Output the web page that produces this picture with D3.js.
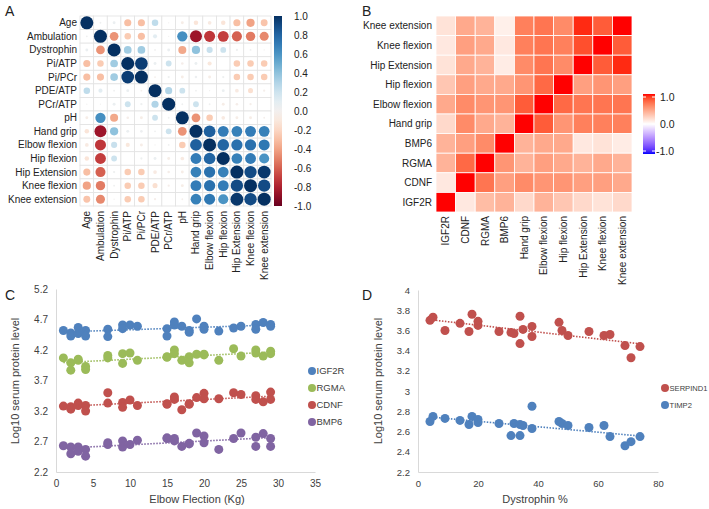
<!DOCTYPE html>
<html><head><meta charset="utf-8">
<script src="https://cdn.jsdelivr.net/npm/d3@7"></script>
<style>
body{margin:0;background:#fff;}
text{font-family:"Liberation Sans",Arial,sans-serif;}
</style></head>
<body><svg id="chart" width="709" height="509"></svg>
<script>
// ---------- Panel A: correlation matrix ----------
const corrVars = ["Age","Ambulation","Dystrophin","Pi/ATP","Pi/PCr","PDE/ATP","PCr/ATP","pH","Hand grip","Elbow flexion","Hip flexion","Hip Extension","Knee flexion","Knee extension"];
const corrMatrix = [
 [1,0.02,0.05,-0.3,-0.3,0.25,0.01,-0.05,-0.12,-0.08,-0.12,-0.3,-0.4,-0.28],
 [0.02,1,-0.45,-0.25,-0.3,0.1,0.01,0.62,-0.85,-0.72,-0.7,-0.6,-0.52,-0.48],
 [0.05,-0.45,1,0.35,0.35,0.02,0.05,-0.38,0.4,0.22,0.2,0.03,0.02,0.01],
 [-0.3,-0.25,0.35,1,0.95,0.05,0.2,-0.04,0.05,-0.1,0.0,-0.25,-0.25,-0.25],
 [-0.3,-0.3,0.35,0.95,1,-0.02,0.03,-0.05,0.04,-0.05,0.03,-0.25,-0.25,-0.25],
 [0.25,0.1,0.02,0.05,-0.02,1,0.3,0.2,0.02,0.01,0.05,-0.08,-0.15,-0.03],
 [0.01,0.01,0.05,0.2,0.03,0.3,1,0.02,0.2,0.02,-0.05,-0.04,-0.03,0.0],
 [-0.05,0.62,-0.38,-0.04,-0.05,0.2,0.02,1,-0.45,-0.25,-0.08,-0.05,-0.05,-0.02],
 [-0.12,-0.85,0.4,0.05,0.04,0.02,0.2,-0.45,1,0.82,0.7,0.68,0.7,0.68],
 [-0.08,-0.72,0.22,-0.1,-0.05,0.01,0.02,-0.25,0.82,1,0.8,0.75,0.75,0.72],
 [-0.12,-0.7,0.2,0.0,0.03,0.05,-0.05,-0.08,0.7,0.8,1,0.68,0.7,0.6],
 [-0.3,-0.6,0.03,-0.25,-0.25,-0.08,-0.04,-0.05,0.68,0.75,0.68,1,0.9,0.97],
 [-0.4,-0.52,0.02,-0.25,-0.25,-0.15,-0.03,-0.05,0.7,0.75,0.7,0.9,1,0.9],
 [-0.28,-0.48,0.01,-0.25,-0.25,-0.03,0.0,-0.02,0.68,0.72,0.6,0.97,0.9,1]
];
const corrLegendTicks = [1.0,0.8,0.6,0.4,0.2,0.0,-0.2,-0.4,-0.6,-0.8,-1.0];

// ---------- Panel B: heatmap ----------
const heatRows = ["Knee extension","Knee flexion","Hip Extension","Hip flexion","Elbow flexion","Hand grip","BMP6","RGMA","CDNF","IGF2R"];
const heatCols = ["IGF2R","CDNF","RGMA","BMP6","Hand grip","Elbow flexion","Hip flexion","Hip Extension","Knee flexion","Knee extension"];
const heatValues = [
 [0.15,0.45,0.40,0.08,0.65,0.70,0.60,0.95,0.80,1.00],
 [0.12,0.50,0.45,0.12,0.65,0.70,0.65,0.85,1.00,0.80],
 [0.15,0.45,0.40,0.10,0.60,0.70,0.60,1.00,0.80,0.95],
 [0.30,0.50,0.45,0.45,0.55,0.75,1.00,0.50,0.55,0.50],
 [0.45,0.60,0.55,0.55,0.80,1.00,0.75,0.70,0.70,0.70],
 [0.20,0.60,0.45,0.40,1.00,0.80,0.55,0.65,0.65,0.65],
 [0.40,0.50,0.60,1.00,0.40,0.45,0.45,0.12,0.15,0.10],
 [0.40,0.75,1.00,0.55,0.40,0.50,0.45,0.40,0.45,0.40],
 [0.12,1.00,0.70,0.50,0.60,0.55,0.55,0.50,0.50,0.45],
 [1.00,0.12,0.35,0.40,0.20,0.40,0.30,0.20,0.15,0.20]
];
const heatLegendTicks = [1.0,0.0,-1.0];

// ---------- Panel C ----------
const cElbow = [1,2,2,3,3,4,4,7,7,9,9,10,11,15,15,16,16,17,18,18,19,20,20,22,24,25,27,27,28,29,29];
const cIGF2R = [4.52,4.48,4.43,4.57,4.47,4.52,4.43,4.54,4.42,4.61,4.55,4.61,4.59,4.55,4.43,4.66,4.61,4.59,4.52,4.49,4.71,4.59,4.54,4.51,4.56,4.59,4.62,4.54,4.65,4.62,4.59];
const cRGMA  = [4.07,3.99,3.87,4.05,4.03,3.93,3.88,4.11,4.07,4.14,3.98,4.15,4.03,4.09,4.08,4.20,4.14,4.03,4.09,3.99,4.13,4.13,4.12,4.03,4.22,4.10,4.20,4.15,4.10,4.18,4.14];
const cCDNF  = [3.28,3.27,3.23,3.33,3.29,3.29,3.20,3.50,3.33,3.34,3.26,3.38,3.29,3.32,3.31,3.43,3.39,3.22,3.32,3.31,3.42,3.49,3.40,3.40,3.50,3.47,3.45,3.39,3.35,3.51,3.39];
const cBMP6  = [2.63,2.61,2.50,2.61,2.54,2.57,2.46,2.68,2.65,2.71,2.61,2.65,2.72,2.76,2.75,2.75,2.71,2.62,2.67,2.66,2.84,2.79,2.68,2.57,2.75,2.84,2.77,2.62,2.83,2.75,2.62];
const cSeriesNames = ["IGF2R","RGMA","CDNF","BMP6"];
const cXTicks = [0,5,10,15,20,25,30,35];
const cYTicks = [2.2,2.7,3.2,3.7,4.2,4.7,5.2];

// ---------- Panel D ----------
const dDystrophin = [4,5,9,14,17,18,20,20,27,31,32,34,34,35,38,38,47,48,50,57,62,64,69,71,74];
const dSERPIND1 = [3.70,3.73,3.60,3.67,3.59,3.76,3.69,3.65,3.59,3.58,3.57,3.74,3.47,3.61,3.64,3.54,3.68,3.60,3.55,3.59,3.55,3.56,3.45,3.33,3.44];
const dTIMP2    = [2.70,2.75,2.73,2.71,2.67,2.75,2.72,2.69,2.68,2.56,2.68,2.67,2.56,2.66,2.85,2.63,2.70,2.68,2.66,2.64,2.66,2.55,2.46,2.50,2.55];
const dSeriesNames = ["SERPIND1","TIMP2"];
const dXTicks = [0,20,40,60,80];
const dYTicks = [2.2,2.4,2.6,2.8,3,3.2,3.4,3.6,3.8,4];

const svg = d3.select("#chart");
const txt = "#222";

// panel letters
[["A",5,16],["B",362,16],["C",5,300],["D",362,300]].forEach(([l,x,y])=>{
  svg.append("text").attr("x",x).attr("y",y).attr("font-size",14).attr("fill",txt).text(l);
});

// ===== Panel A =====
{
  const g = svg.append("g");
  const x = d3.scaleBand().domain(corrVars).range([80,271]);
  const y = d3.scaleBand().domain(corrVars).range([16,206]);
  const col = v => d3.interpolateRdBu((v+1)/2);
  const cells = [];
  corrMatrix.forEach((row,i)=>row.forEach((v,j)=>cells.push({r:corrVars[i],c:corrVars[j],v})));
  g.selectAll("rect.cell").data(cells).join("rect")
    .attr("x",d=>x(d.c)).attr("y",d=>y(d.r))
    .attr("width",x.bandwidth()).attr("height",y.bandwidth())
    .attr("fill","#fff").attr("stroke","#e2e2e2").attr("stroke-width",0.8);
  const rmax = Math.min(x.bandwidth(),y.bandwidth())*0.48;
  g.selectAll("circle").data(cells).join("circle")
    .attr("cx",d=>x(d.c)+x.bandwidth()/2).attr("cy",d=>y(d.r)+y.bandwidth()/2)
    .attr("r",d=>rmax*Math.sqrt(Math.abs(d.v)))
    .attr("fill",d=>col(d.v));
  g.selectAll("text.rl").data(corrVars).join("text")
    .attr("x",77).attr("y",d=>y(d)+y.bandwidth()/2).attr("dy","0.35em")
    .attr("text-anchor","end").attr("font-size",10).attr("fill",txt).text(d=>d);
  g.selectAll("text.cl").data(corrVars).join("text")
    .attr("transform",d=>`translate(${x(d)+x.bandwidth()/2+3.5},211) rotate(-90)`)
    .attr("text-anchor","end").attr("font-size",10).attr("fill",txt).text(d=>d);
  // colorbar
  const defs = svg.append("defs");
  const gr = defs.append("linearGradient").attr("id","gA").attr("x1",0).attr("x2",0).attr("y1",1).attr("y2",0);
  d3.range(0,1.001,0.05).forEach(t=>gr.append("stop").attr("offset",t).attr("stop-color",d3.interpolateRdBu(t)));
  const ly = d3.scaleLinear().domain([-1,1]).range([206,16]);
  g.append("rect").attr("x",274).attr("y",16).attr("width",8).attr("height",190).attr("fill","url(#gA)");
  g.selectAll("text.lt").data(corrLegendTicks).join("text")
    .attr("x",294).attr("y",d=>ly(d)).attr("dy","0.35em").attr("font-size",10).attr("fill",txt)
    .text(d=>d.toFixed(1));
}

// ===== Panel B =====
{
  const g = svg.append("g");
  const x = d3.scaleBand().domain(heatCols).range([436,632]);
  const y = d3.scaleBand().domain(heatRows).range([16,212]);
  const col = v => v>=0 ? d3.interpolateLab("#ffffff","#ff0000")(v) : d3.interpolateLab("#ffffff","#0000ff")(-v);
  const cells = [];
  heatValues.forEach((row,i)=>row.forEach((v,j)=>cells.push({r:heatRows[i],c:heatCols[j],v})));
  g.selectAll("rect").data(cells).join("rect")
    .attr("x",d=>x(d.c)).attr("y",d=>y(d.r)).attr("width",x.bandwidth()).attr("height",y.bandwidth())
    .attr("fill",d=>col(d.v)).attr("stroke","#fff").attr("stroke-width",0.8);
  g.selectAll("text.rl").data(heatRows).join("text")
    .attr("x",432).attr("y",d=>y(d)+y.bandwidth()/2).attr("dy","0.35em")
    .attr("text-anchor","end").attr("font-size",10).attr("fill",txt).text(d=>d);
  g.selectAll("text.cl").data(heatCols).join("text")
    .attr("transform",d=>`translate(${x(d)+x.bandwidth()/2+3.5},216) rotate(-90)`)
    .attr("text-anchor","end").attr("font-size",10).attr("fill",txt).text(d=>d);
  const defs = svg.append("defs");
  const gr = defs.append("linearGradient").attr("id","gB").attr("x1",0).attr("x2",0).attr("y1",1).attr("y2",0);
  d3.range(-1,1.001,0.1).forEach(v=>gr.append("stop").attr("offset",(v+1)/2).attr("stop-color",col(v)));
  const ly = d3.scaleLinear().domain([-1,1]).range([151,97]);
  g.append("rect").attr("x",643).attr("y",94).attr("width",12).attr("height",60).attr("fill","url(#gB)");
  heatLegendTicks.forEach(t=>{
    g.append("line").attr("x1",643).attr("x2",646).attr("y1",ly(t)).attr("y2",ly(t)).attr("stroke","#fff");
    g.append("line").attr("x1",652).attr("x2",655).attr("y1",ly(t)).attr("y2",ly(t)).attr("stroke","#fff");
  });
  g.selectAll("text.lt").data(heatLegendTicks).join("text")
    .attr("x",d=>d<0?656:660).attr("y",d=>ly(d)).attr("dy","0.35em").attr("font-size",10.5).attr("fill",txt)
    .text(d=>d.toFixed(1));
}

// ===== scatter helper =====
function scatter(opts){
  const g = svg.append("g");
  const x = d3.scaleLinear().domain(opts.xd).range(opts.xr);
  const y = d3.scaleLinear().domain(opts.yd).range(opts.yr);
  const ax = g.append("g").attr("transform",`translate(0,${opts.yr[0]})`)
    .call(d3.axisBottom(x).tickValues(opts.xt).tickSize(0).tickSizeOuter(0).tickPadding(8).tickFormat(d=>d));
  const ay = g.append("g").attr("transform",`translate(${opts.xr[0]},0)`)
    .call(d3.axisLeft(y).tickValues(opts.yt).tickSize(0).tickSizeOuter(0).tickPadding(8).tickFormat(opts.yf));
  [ax,ay].forEach(a=>{
    a.select(".domain").attr("stroke","#d9d9d9");
    a.selectAll("text").attr("font-size",opts.tfs).attr("fill","#404040").attr("font-family","Liberation Sans, Arial, sans-serif");
  });
  g.append("text").attr("x",opts.xtx).attr("y",503).attr("text-anchor","middle").attr("font-size",11).attr("fill","#404040").text(opts.xtitle);
  g.append("text").attr("transform",`translate(${opts.ytx},381) rotate(-90)`).attr("text-anchor","middle").attr("font-size",11).attr("fill","#404040").text(opts.ytitle);
  opts.series.forEach((s,k)=>{
    const pts = opts.xs.map((xv,i)=>({x:xv,y:s.vals[i]}));
    // least squares trendline
    const mx = d3.mean(pts,p=>p.x), my = d3.mean(pts,p=>p.y);
    const b = d3.sum(pts,p=>(p.x-mx)*(p.y-my))/d3.sum(pts,p=>(p.x-mx)*(p.x-mx));
    const a = my-b*mx;
    const [x0,x1] = d3.extent(pts,p=>p.x);
    g.selectAll(null).data(pts).join("circle")
      .attr("cx",p=>x(p.x)).attr("cy",p=>y(p.y)).attr("r",4.5).attr("fill",s.color);
    g.append("line").attr("x1",x(x0)).attr("x2",x(x1)).attr("y1",y(a+b*x0)).attr("y2",y(a+b*x1))
      .attr("stroke",s.color).attr("stroke-width",1.6).attr("stroke-dasharray","1.5,1.5");
    g.append("circle").attr("cx",opts.lx).attr("cy",opts.ly+k*opts.ldy).attr("r",4).attr("fill",s.color);
    g.append("text").attr("x",opts.lx+4.5).attr("y",opts.ly+k*opts.ldy).attr("dy","0.35em").attr("font-size",opts.lfs).attr("fill","#404040").text(s.name);
  });
}

const cVals = [cIGF2R,cRGMA,cCDNF,cBMP6];
const cColors = ["#4f81bd","#9bbb59","#c0504d","#8064a2"];
scatter({xd:[0,35],xr:[56,315],yd:[2.2,5.2],yr:[472,289],xt:cXTicks,yt:cYTicks,yf:d=>d.toFixed(1),
  xs:cElbow, series:cSeriesNames.map((n,i)=>({name:n,vals:cVals[i],color:cColors[i]})),
  xtitle:"Elbow Flection (Kg)", xtx:197, ytitle:"Log10 serum protein level", ytx:19,
  lx:312, ly:371, ldy:17, lfs:9.5, tfs:10});

const dVals = [dSERPIND1,dTIMP2];
const dColors = ["#c0504d","#4f81bd"];
scatter({xd:[0,80],xr:[418,658],yd:[2.2,4],yr:[472,290],xt:dXTicks,yt:dYTicks,yf:d=>String(+d.toFixed(1)),
  xs:dDystrophin, series:dSeriesNames.map((n,i)=>({name:n,vals:dVals[i],color:dColors[i]})),
  xtitle:"Dystrophin %", xtx:535, ytitle:"Log10 serum protein level", ytx:382,
  lx:665, ly:388, ldy:17, lfs:7.6, tfs:9.5});
</script></body></html>
